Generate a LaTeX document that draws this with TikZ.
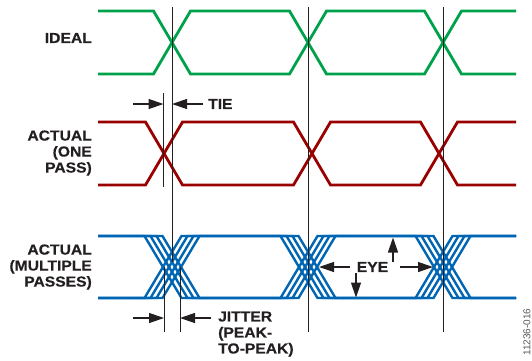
\documentclass[tikz,border=0pt]{standalone}
\usepackage{fontspec}
\setmainfont{Liberation Sans}[FakeStretch=1.08,FakeBold=0.4]
\newfontfamily\idfont{Liberation Sans}
\usetikzlibrary{arrows.meta}
\definecolor{txt}{HTML}{231F20}
\definecolor{sgreen}{HTML}{00A14B}
\definecolor{sred}{HTML}{990000}
\definecolor{sblue}{HTML}{0066B3}
\tikzset{
  lbl/.style={font=\bfseries\fontsize{14.5}{16}\selectfont, text=txt, inner sep=0pt, align=right, anchor=east},
  lbll/.style={font=\bfseries\fontsize{14.5}{16}\selectfont, text=txt, inner sep=0pt, align=left, anchor=west},
  wave/.style={line width=2.8pt, miter limit=4},
  bwave/.style={line width=2.4pt, miter limit=4},
  marker/.style={line width=0.7pt, draw=txt},
  dim/.style={line width=1.3pt, draw=txt, -{Triangle[length=15pt,width=10pt]}},
}
\begin{document}
\begin{tikzpicture}[x=1pt,y=-1pt]
\useasboundingbox (0,0) rectangle (532,360);
\def\h{18.5}
% ideal
\foreach \T/\B in {11/74,74/11}{
  \draw[wave, sgreen] (98,\T) -- ({172-\h},\T) -- ({172+\h},\B) -- ({308-\h},\B) -- ({308+\h},\T) -- ({443-\h},\T) -- ({443+\h},\B) -- (516,\B);
}
% actual one pass
\foreach \T/\B in {122/185,185/122}{
  \draw[wave, sred] (98,\T) -- ({164-\h},\T) -- ({164+\h},\B) -- ({312-\h},\B) -- ({312+\h},\T) -- ({439-\h},\T) -- ({439+\h},\B) -- (516,\B);
}
% multiple passes
\foreach \d in {-9,-3,3,9}{
  \foreach \T/\B in {236/298,298/236}{
    \draw[bwave, sblue] (98,\T) -- ({172+\d-\h},\T) -- ({172+\d+\h},\B) -- ({308+\d-\h},\B) -- ({308+\d+\h},\T) -- ({443+\d-\h},\T) -- ({443+\d+\h},\B) -- (516,\B);
  }
}
% marker lines
\coordinate (m1t) at (172,7);   \coordinate (m1b) at (172,262);
\coordinate (m2t) at (308,7);   \coordinate (m2b) at (308,332);
\coordinate (m3t) at (443,7);   \coordinate (m3b) at (443,332);
\coordinate (r1t) at (163.5,93); \coordinate (r1b) at (163.5,187);
\coordinate (j1t) at (164,267); \coordinate (j1b) at (164,332);
\coordinate (j2t) at (180,267); \coordinate (j2b) at (180,332);
\draw[marker] (m1t) -- (m1b);
\draw[marker] (m2t) -- (m2b);
\draw[marker] (m3t) -- (m3b);
\draw[marker] (r1t) -- (r1b);
\draw[marker] (j1t) -- (j1b);
\draw[marker] (j2t) -- (j2b);
% labels
\node[lbl] (ideal) at (92,38) {IDEAL};
\node[lbl] (one) at (92,153) {ACTUAL\\(ONE\\PASS)};
\node[lbl] (mult) at (92,267) {ACTUAL\\(MULTIPLE\\PASSES)};
% TIE
\node[lbll] (tie) at (208,104) {TIE};
\coordinate (tieA) at (133,104); \coordinate (tieAe) at (163.5,104);
\coordinate (tieB) at (203,104); \coordinate (tieBe) at (172,104);
\draw[dim] (tieA) -- (tieAe);
\draw[dim] (tieB) -- (tieBe);
% JITTER
\node[lbll] (jit) at (218,334) {JITTER\\(PEAK-\\TO-PEAK)};
\coordinate (jA) at (133,318); \coordinate (jAe) at (164,318);
\coordinate (jB) at (211,318); \coordinate (jBe) at (180,318);
\draw[dim] (jA) -- (jAe);
\draw[dim] (jB) -- (jBe);
% EYE
\node[font=\bfseries\fontsize{14.5}{16}\selectfont, text=txt, inner sep=0pt] (eye) at (372.5,267) {EYE};
\coordinate (eLs) at (350,267); \coordinate (eL) at (319,267);
\coordinate (eRs) at (400,267); \coordinate (eR) at (433,267);
\coordinate (eUs) at (393,262); \coordinate (eU) at (393,237.5);
\coordinate (eDs) at (356,273); \coordinate (eD) at (356,297.5);
\draw[dim] (eLs) -- (eL);
\draw[dim] (eRs) -- (eR);
\draw[dim] (eUs) -- (eU);
\draw[dim] (eDs) -- (eD);
% id
\node[font=\idfont\fontsize{10}{12}\selectfont, text=txt!75, rotate=90, inner sep=0pt] (id) at (527,332) {11236-016};
\end{tikzpicture}
\end{document}
